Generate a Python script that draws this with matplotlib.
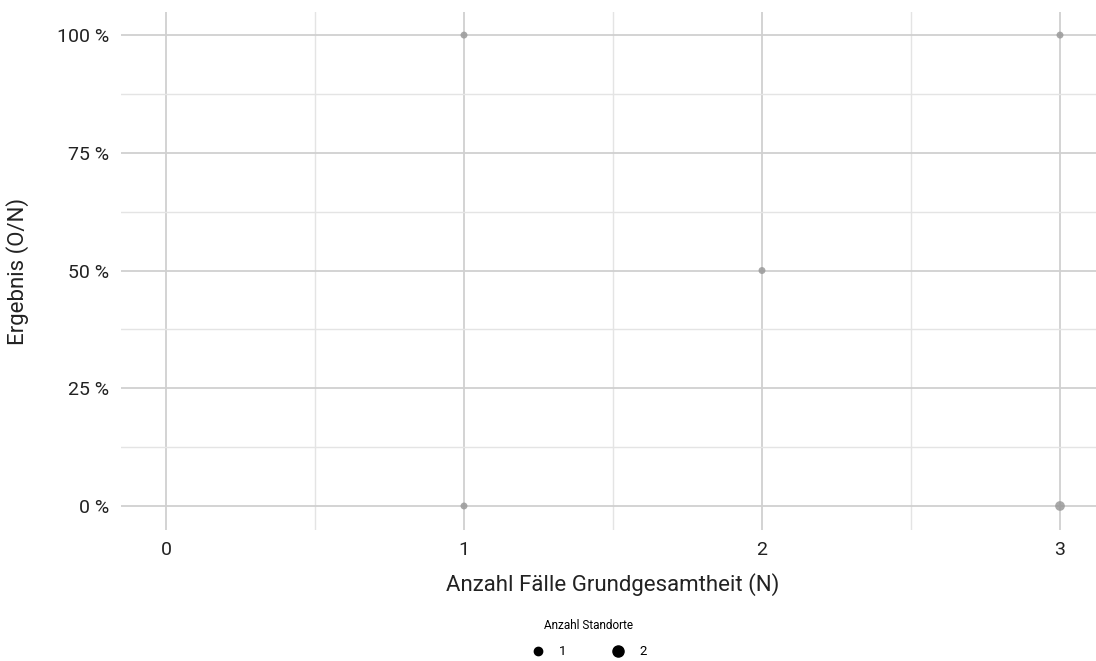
import matplotlib
matplotlib.use("Agg")
import matplotlib.pyplot as plt
from matplotlib.lines import Line2D

plt.rcParams['font.family'] = ['Roboto', 'DejaVu Sans']

# Data
n_cases = [1, 1, 2, 3, 3]
result = [1.0, 0.0, 0.5, 1.0, 0.0]
n_sites = [1, 1, 1, 1, 2]

x_ticks = [0, 1, 2, 3]
y_ticks = [0, 0.25, 0.5, 0.75, 1.0]
y_labels = ["0 %", "25 %", "50 %", "75 %", "100 %"]
size_levels = [1, 2]

size_map = {1: 5.0, 2: 7.0}  # marker size in points (diameter)

fig = plt.figure(figsize=(10.96, 6.61), dpi=100)
ax = fig.add_axes([121.3/1096, 1-530/661, (1104.7-121.3)/1096, (530-12)/661])

ax.set_xlim(-0.15, 3.15)
ax.set_ylim(-0.051, 1.049)

ax.set_xticks(x_ticks)
ax.set_xticks([0.5, 1.5, 2.5], minor=True)
ax.set_yticks(y_ticks)
ax.set_yticklabels(y_labels)
ax.set_yticks([0.125, 0.375, 0.625, 0.875], minor=True)

ax.grid(True, which='major', color='#d0d0d0', linewidth=1.3)
ax.grid(True, which='minor', color='#e4e4e4', linewidth=1.0)
ax.set_axisbelow(True)
for s in ax.spines.values():
    s.set_visible(False)
ax.tick_params(which='both', length=0)
ax.tick_params(axis='x', labelsize=14, colors='#222222', pad=8)
ax.tick_params(axis='y', labelsize=14, colors='#222222', pad=9)

ax.scatter(n_cases, result, s=[size_map[n]**2 for n in n_sites],
           color='#9a9a9a', alpha=0.85, linewidths=0, zorder=3)

ax.set_xlabel("Anzahl Fälle Grundgesamtheit (N)", fontsize=16, color='#222222', labelpad=10)
ax.set_ylabel("Ergebnis (O/N)", fontsize=16, color='#222222', labelpad=20)

handles = [Line2D([], [], linestyle='none', marker='o', color='black',
                  markersize=size_map[n] + 1, label=str(n)) for n in size_levels]
leg = fig.legend(handles=handles, loc='center', bbox_to_anchor=(0.537, 0.034),
                 ncol=2, frameon=False, title="Anzahl Standorte",
                 fontsize=9.5, title_fontsize=8.5, handletextpad=1.0,
                 columnspacing=3.3, handlelength=1.2)
leg._legend_box.sep = 10

fig.savefig("out.png", dpi=100)
